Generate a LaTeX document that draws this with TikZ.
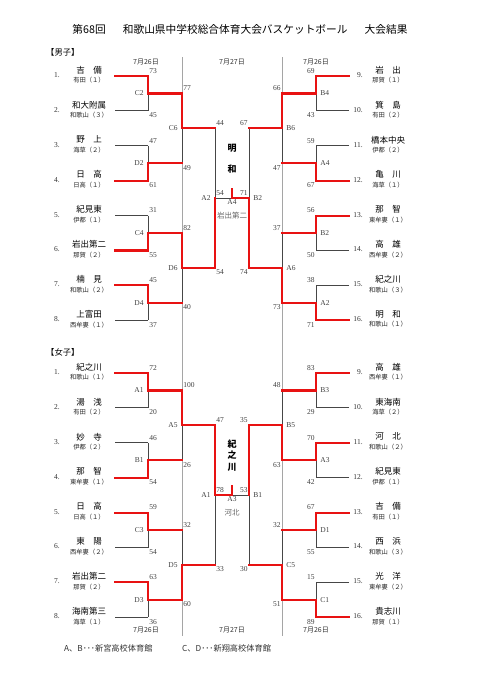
\documentclass[tikz,border=0pt]{standalone}
\usepackage{fontspec}
\setmainfont{Liberation Serif}
\newfontfamily\jp{Noto Sans CJK JP}
\usepackage{tikz}
\usetikzlibrary{positioning,calc}
\definecolor{brkred}{RGB}{232,18,18}
\definecolor{brkgray}{RGB}{70,70,70}
\definecolor{divgray}{RGB}{165,165,165}
\pgfdeclarelayer{back}
\pgfsetlayers{back,main}

% one match: top end, bottom end, winner end, name, run to next round, label, scores
\newcommand{\bout}[8]{%
  \coordinate (#4) at ($(#1)!.5!(#2)$);
  \coordinate (#4-o) at ($(#4)+(#5,0)$);
  \begin{pgfonlayer}{back}\draw[lose] (#1) -- (#2);\end{pgfonlayer}
  \ifdim #5pt=0pt \draw[win] (#3) -- (#4);
  \else \draw[win] (#3) -- (#4) -- (#4-o); \fi
  \node[lab] (#4-l) at (#4) {#6};
  \node[sct] (#4-t) at (#1) {#7};
  \node[scb] (#4-b) at (#2) {#8};
}
% the final: left semi, right semi, winner, name, label, scores
\newcommand{\finalbout}[7]{%
  \coordinate (#4) at ($(#1)!.5!(#2)$);
  \coordinate (#4-o) at ($(#4)+(0,-9)$);
  \begin{pgfonlayer}{back}\draw[lose] (#1) -- (#2);\end{pgfonlayer}
  \draw[win] (#3) -- (#4) -- (#4-o);
  \node[sc, anchor=north] (#4-l) at (#4) {#5};
  \node[sc, anchor=south west, yshift=1.2pt] (#4-t) at (#1) {#6};
  \node[sc, anchor=south east, yshift=1.2pt] (#4-b) at (#2) {#7};
}

\begin{document}
\begin{tikzpicture}[x=1pt, y=-1pt,
    win/.style={draw=brkred, line width=2.1pt, line cap=rect},
    lose/.style={draw=brkgray, line width=0.9pt},
    divider/.style={draw=divgray, line width=0.9pt},
    sc/.style={font=\fontsize{7.5}{8}\selectfont, text=black!75, inner sep=1.2pt},
    num/.style={font=\fontsize{7.5}{8}\selectfont, text=black!80, inner sep=0pt},
    tname/.style={font=\jp\fontsize{8.5}{9}\selectfont, inner sep=0pt},
    tsub/.style={font=\jp\fontsize{6.3}{7}\selectfont, text=black!85, inner sep=0pt},
    dayl/.style={font=\jp\fontsize{7}{8}\selectfont, text=black!80, inner sep=0pt},
    hall/.style={font=\jp\fontsize{8.2}{9}\selectfont, text=black!80, inner sep=0pt, anchor=west},
    head/.style={font=\jp\fontsize{8.3}{9}\selectfont, inner sep=0pt, anchor=west},
    champ/.style={font=\jp\bfseries\fontsize{9}{11.5}\selectfont, align=center, inner sep=0pt},
    second/.style={font=\jp\fontsize{7.5}{8}\selectfont, text=black!60, inner sep=0pt},
    leftside/.style={sct/.style={sc, anchor=south west, yshift=1.2pt},
      scb/.style={sc, anchor=north west, yshift=-0.6pt}, lab/.style={sc, anchor=east, xshift=-3pt}},
    rightside/.style={sct/.style={sc, anchor=south east, yshift=1.2pt},
      scb/.style={sc, anchor=north east, yshift=-0.6pt}, lab/.style={sc, anchor=west, xshift=3pt}}]

    \useasboundingbox (0,0) rectangle (481,680);

    \node[font=\jp\fontsize{10.7}{12}\selectfont, inner sep=0pt] (title) at (240,29)
      {第68回\hspace{1.6em}和歌山県中学校総合体育大会バスケットボール\hspace{1.6em}大会結果};
    \node[head] (boys) at (46,52) {【男子】};
    \node[head] (girls) at (46,352) {【女子】};

    % day columns
    \coordinate (div1-t) at (182,57); \coordinate (div1-b) at (182,636);
    \coordinate (div2-t) at (282,57); \coordinate (div2-b) at (282,636);
    \begin{pgfonlayer}{back}
      \draw[divider] (div1-t) -- (div1-b);
      \draw[divider] (div2-t) -- (div2-b);
    \end{pgfonlayer}
    \node[dayl] (day1) at (146,62) {7月26日};
    \node[dayl] (day2) at (232,62) {7月27日};
    \node[dayl] (day3) at (316,62) {7月26日};
    \node[dayl] (day4) at (146,630) {7月26日};
    \node[dayl] (day5) at (232,630) {7月27日};
    \node[dayl] (day6) at (316,630) {7月26日};

    % boys
    \foreach \i/\nm/\ds/\st in {1/吉　備/有田（１）/win, 2/和大附属/和歌山（３）/lose,
        3/野　上/海草（２）/lose, 4/日　高/日高（１）/win, 5/紀見東/伊都（１）/lose,
        6/岩出第二/那賀（２）/win, 7/楠　見/和歌山（２）/win, 8/上富田/西牟婁（１）/lose}{
      \pgfmathsetmacro\yy{76+(\i-1)*34.9}
      \coordinate (mL\i-s) at (115,\yy);
      \coordinate (mL\i) at (148,\yy);
      \draw[\st] (mL\i-s) -- (mL\i);
      \node[num, anchor=west] (mL\i-n) at (54,\yy-1) {\i.};
      \node[tname] (mL\i-t) at (89,\yy-6) {\nm};
      \node[tsub, below=3pt of mL\i-t] (mL\i-d) {\ds};
    }
    \foreach \i/\nm/\ds/\st in {9/岩　出/那賀（１）/win, 10/箕　島/有田（２）/lose,
        11/橋本中央/伊都（２）/lose, 12/亀　川/海草（１）/win, 13/那　智/東牟婁（１）/win,
        14/高　雄/西牟婁（２）/lose, 15/紀之川/和歌山（３）/lose, 16/明　和/和歌山（１）/win}{
      \pgfmathsetmacro\yy{76+(\i-9)*34.9}
      \coordinate (mR\i-s) at (349,\yy);
      \coordinate (mR\i) at (316,\yy);
      \draw[\st] (mR\i-s) -- (mR\i);
      \node[num, anchor=east] (mR\i-n) at (363,\yy-1) {\i.};
      \node[tname] (mR\i-t) at (388,\yy-6) {\nm};
      \node[tsub, below=3pt of mR\i-t] (mR\i-d) {\ds};
    }
    \begin{scope}[leftside]
      \bout{mL1}{mL2}{mL1}{mLa1}{34}{C2}{73}{45}
      \bout{mL3}{mL4}{mL4}{mLa2}{34}{D2}{47}{61}
      \bout{mL5}{mL6}{mL6}{mLa3}{34}{C4}{31}{55}
      \bout{mL7}{mL8}{mL7}{mLa4}{34}{D4}{45}{37}
      \bout{mLa1-o}{mLa2-o}{mLa1-o}{mLb1}{33}{C6}{77}{49}
      \bout{mLa3-o}{mLa4-o}{mLa3-o}{mLb2}{33}{D6}{82}{40}
      \bout{mLb1-o}{mLb2-o}{mLb2-o}{mLc}{0}{A2}{44}{54}
    \end{scope}
    \begin{scope}[rightside]
      \bout{mR9}{mR10}{mR9}{mRa1}{-34}{B4}{69}{43}
      \bout{mR11}{mR12}{mR12}{mRa2}{-34}{A4}{59}{67}
      \bout{mR13}{mR14}{mR13}{mRa3}{-34}{B2}{56}{50}
      \bout{mR15}{mR16}{mR16}{mRa4}{-34}{A2}{38}{71}
      \bout{mRa1-o}{mRa2-o}{mRa1-o}{mRb1}{-33}{B6}{66}{47}
      \bout{mRa3-o}{mRa4-o}{mRa4-o}{mRb2}{-33}{A6}{37}{73}
      \bout{mRb1-o}{mRb2-o}{mRb2-o}{mRc}{0}{B2}{67}{74}
    \end{scope}
    \finalbout{mLc}{mRc}{mRc}{mF}{A4}{54}{71}
    \node[champ] (mWin) at (232,158.5) {明\\[9.5pt]和};
    \node[second] (mSecond) at (232,216) {岩出第二};

    % girls
    \foreach \i/\nm/\ds/\st in {1/紀之川/和歌山（１）/win, 2/湯　浅/有田（２）/lose,
        3/妙　寺/伊都（２）/lose, 4/那　智/東牟婁（１）/win, 5/日　高/日高（１）/win,
        6/東　陽/西牟婁（２）/lose, 7/岩出第二/那賀（２）/win, 8/海南第三/海草（１）/lose}{
      \pgfmathsetmacro\yy{373+(\i-1)*34.9}
      \coordinate (wL\i-s) at (115,\yy);
      \coordinate (wL\i) at (148,\yy);
      \draw[\st] (wL\i-s) -- (wL\i);
      \node[num, anchor=west] (wL\i-n) at (54,\yy-1) {\i.};
      \node[tname] (wL\i-t) at (89,\yy-6) {\nm};
      \node[tsub, below=3pt of wL\i-t] (wL\i-d) {\ds};
    }
    \foreach \i/\nm/\ds/\st in {9/高　雄/西牟婁（１）/win, 10/東海南/海草（２）/lose,
        11/河　北/和歌山（２）/win, 12/紀見東/伊都（１）/lose, 13/吉　備/有田（１）/win,
        14/西　浜/和歌山（３）/lose, 15/光　洋/東牟婁（２）/lose, 16/貴志川/那賀（１）/win}{
      \pgfmathsetmacro\yy{373+(\i-9)*34.9}
      \coordinate (wR\i-s) at (349,\yy);
      \coordinate (wR\i) at (316,\yy);
      \draw[\st] (wR\i-s) -- (wR\i);
      \node[num, anchor=east] (wR\i-n) at (363,\yy-1) {\i.};
      \node[tname] (wR\i-t) at (388,\yy-6) {\nm};
      \node[tsub, below=3pt of wR\i-t] (wR\i-d) {\ds};
    }
    \begin{scope}[leftside]
      \bout{wL1}{wL2}{wL1}{wLa1}{34}{A1}{72}{20}
      \bout{wL3}{wL4}{wL4}{wLa2}{34}{B1}{46}{54}
      \bout{wL5}{wL6}{wL5}{wLa3}{34}{C3}{59}{54}
      \bout{wL7}{wL8}{wL7}{wLa4}{34}{D3}{63}{36}
      \bout{wLa1-o}{wLa2-o}{wLa1-o}{wLb1}{33}{A5}{100}{26}
      \bout{wLa3-o}{wLa4-o}{wLa4-o}{wLb2}{33}{D5}{32}{60}
      \bout{wLb1-o}{wLb2-o}{wLb1-o}{wLc}{0}{A1}{47}{33}
    \end{scope}
    \begin{scope}[rightside]
      \bout{wR9}{wR10}{wR9}{wRa1}{-34}{B3}{83}{29}
      \bout{wR11}{wR12}{wR11}{wRa2}{-34}{A3}{70}{42}
      \bout{wR13}{wR14}{wR13}{wRa3}{-34}{D1}{67}{55}
      \bout{wR15}{wR16}{wR16}{wRa4}{-34}{C1}{15}{89}
      \bout{wRa1-o}{wRa2-o}{wRa2-o}{wRb1}{-33}{B5}{48}{63}
      \bout{wRa3-o}{wRa4-o}{wRa4-o}{wRb2}{-33}{C5}{32}{51}
      \bout{wRb1-o}{wRb2-o}{wRb1-o}{wRc}{0}{B1}{35}{30}
    \end{scope}
    \finalbout{wLc}{wRc}{wLc}{wF}{A3}{78}{53}
    \node[champ] (wWin) at (232,455.5) {紀\\之\\川};
    \node[second] (wSecond) at (232,513) {河北};

    % halls
    \node[hall] (hallAB) at (64,648) {A、B･･･新宮高校体育館};
    \node[hall] (hallCD) at (182,648) {C、D･･･新翔高校体育館};
\end{tikzpicture}
\end{document}
